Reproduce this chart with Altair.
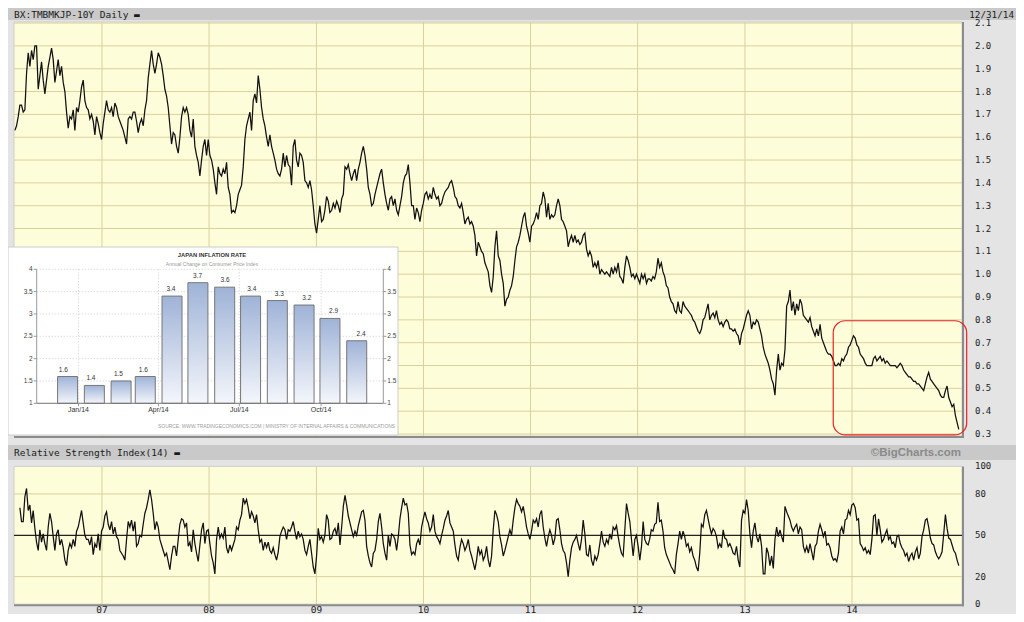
import altair as alt
import pandas as pd

# ---------------- data ----------------
# 10-year JGB yield, sampled along the daily trace, in three stretches
price_2006_2009 = [
    1.63, 1.65, 1.69, 1.74, 1.74, 1.71, 1.72, 1.88, 1.97, 1.91,
    1.98, 1.94, 2.00, 2.00, 1.81, 1.87, 1.93, 1.85, 1.79, 1.85,
    1.91, 1.95, 1.99, 1.94, 1.84, 1.89, 1.94, 1.87, 1.91, 1.84,
    1.80, 1.71, 1.64, 1.69, 1.68, 1.72, 1.63, 1.73, 1.71, 1.76,
    1.82, 1.85, 1.76, 1.73, 1.72, 1.68, 1.70, 1.67, 1.61, 1.69,
    1.66, 1.62, 1.59, 1.66, 1.71, 1.76, 1.72, 1.71, 1.73, 1.69,
    1.75, 1.73, 1.69, 1.67, 1.65, 1.63, 1.60, 1.57, 1.68, 1.69,
    1.68, 1.71, 1.71, 1.67, 1.62, 1.66, 1.68, 1.65, 1.72, 1.76,
    1.86, 1.92, 1.98, 1.92, 1.88, 1.92, 1.97, 1.95, 1.92, 1.87,
    1.81, 1.78, 1.73, 1.65, 1.57, 1.62, 1.61, 1.56, 1.53, 1.60,
    1.69, 1.73, 1.71, 1.73, 1.70, 1.63, 1.60, 1.68, 1.56, 1.52,
    1.49, 1.43, 1.50, 1.56, 1.59, 1.52, 1.59, 1.52, 1.50, 1.46,
    1.40, 1.35, 1.47, 1.44, 1.43, 1.46, 1.44, 1.49, 1.38, 1.35,
    1.27, 1.28, 1.27, 1.30, 1.35, 1.37, 1.39, 1.47, 1.59, 1.65,
    1.68, 1.71, 1.63, 1.76, 1.79, 1.75, 1.87, 1.81, 1.73, 1.68,
    1.65, 1.60, 1.56, 1.61, 1.56, 1.53, 1.50, 1.46, 1.44, 1.43,
    1.46, 1.53, 1.47, 1.52, 1.48, 1.47, 1.39, 1.56, 1.59, 1.50,
    1.47, 1.53, 1.52, 1.49, 1.41, 1.40, 1.38, 1.41, 1.37, 1.30,
    1.22, 1.18, 1.24, 1.30, 1.23, 1.24, 1.28, 1.34, 1.32, 1.27,
]
price_2009_2012 = [
    1.28, 1.31, 1.29, 1.32, 1.30, 1.27, 1.33, 1.35, 1.47, 1.46,
    1.48, 1.44, 1.41, 1.44, 1.46, 1.41, 1.46, 1.49, 1.53, 1.56,
    1.52, 1.46, 1.38, 1.35, 1.30, 1.31, 1.35, 1.38, 1.41, 1.44,
    1.46, 1.40, 1.35, 1.31, 1.28, 1.33, 1.34, 1.30, 1.33, 1.28,
    1.26, 1.30, 1.34, 1.40, 1.43, 1.44, 1.48, 1.40, 1.30, 1.30,
    1.24, 1.29, 1.27, 1.23, 1.28, 1.31, 1.35, 1.36, 1.33, 1.35,
    1.33, 1.38, 1.35, 1.33, 1.34, 1.30, 1.31, 1.34, 1.36, 1.37,
    1.38, 1.40, 1.41, 1.38, 1.34, 1.33, 1.30, 1.29, 1.31, 1.27,
    1.22, 1.24, 1.25, 1.22, 1.23, 1.21, 1.17, 1.08, 1.14, 1.12,
    1.10, 1.09, 1.05, 1.03, 1.01, 0.95, 0.92, 0.99, 1.12, 1.19,
    1.08, 1.06, 1.00, 0.96, 0.86, 0.89, 0.90, 0.93, 0.95, 0.99,
    1.06, 1.12, 1.14, 1.17, 1.21, 1.25, 1.27, 1.21, 1.18, 1.14,
    1.21, 1.22, 1.24, 1.27, 1.24, 1.30, 1.31, 1.36, 1.33, 1.25,
    1.31, 1.24, 1.26, 1.25, 1.26, 1.30, 1.33, 1.30, 1.24, 1.23,
    1.21, 1.19, 1.12, 1.15, 1.17, 1.14, 1.17, 1.14, 1.15, 1.13,
    1.14, 1.17, 1.18, 1.11, 1.08, 1.10, 1.08, 1.03, 1.05, 1.03,
    1.06, 1.00, 1.02, 1.01, 1.00, 1.01, 1.00, 0.99, 1.03, 1.00,
    1.03, 1.01, 1.05, 0.99, 0.98, 0.96, 1.03, 1.08, 1.06, 1.03,
    0.99, 1.00, 0.98, 1.00, 0.98, 0.96, 1.00, 0.98, 1.00, 0.96,
    0.98,
]
price_2012_2014 = [
    0.98, 0.97, 0.99, 0.98, 1.01, 1.07, 1.03, 1.05, 1.01, 0.99,
    0.95, 0.94, 0.90, 0.88, 0.87, 0.84, 0.83, 0.88, 0.84, 0.83,
    0.88, 0.86, 0.85, 0.84, 0.83, 0.82, 0.80, 0.79, 0.77, 0.75,
    0.74, 0.76, 0.80, 0.81, 0.84, 0.87, 0.80, 0.82, 0.83, 0.81,
    0.84, 0.80, 0.78, 0.79, 0.77, 0.79, 0.80, 0.79, 0.76, 0.76,
    0.75, 0.76, 0.74, 0.73, 0.69, 0.74, 0.76, 0.79, 0.82, 0.84,
    0.82, 0.76, 0.79, 0.78, 0.80, 0.79, 0.76, 0.73, 0.68, 0.65,
    0.63, 0.61, 0.58, 0.54, 0.52, 0.47, 0.58, 0.65, 0.58, 0.61,
    0.60, 0.67, 0.86, 0.88, 0.93, 0.84, 0.88, 0.82, 0.87, 0.84,
    0.89, 0.87, 0.82, 0.81, 0.80, 0.79, 0.81, 0.77, 0.75, 0.73,
    0.76, 0.73, 0.78, 0.72, 0.70, 0.68, 0.66, 0.65, 0.65, 0.64,
    0.62, 0.60, 0.60, 0.61, 0.60, 0.63, 0.62, 0.64, 0.65, 0.68,
    0.69, 0.71, 0.73, 0.72, 0.69, 0.68, 0.65, 0.64, 0.63, 0.61,
    0.60, 0.60, 0.60, 0.60, 0.63, 0.64, 0.62, 0.63, 0.64, 0.62,
    0.63, 0.61, 0.62, 0.61, 0.60, 0.60, 0.60, 0.60, 0.59, 0.60,
    0.61, 0.60, 0.58, 0.57, 0.56, 0.55, 0.55, 0.54, 0.53, 0.53,
    0.52, 0.52, 0.51, 0.50, 0.49, 0.52, 0.55, 0.57, 0.54, 0.53,
    0.52, 0.51, 0.50, 0.49, 0.47, 0.46, 0.46, 0.49, 0.51, 0.46,
    0.44, 0.42, 0.43, 0.38, 0.35, 0.32,
]

# Relative Strength Index (14)
rsi_2006_2009 = [
    70, 60, 60, 78, 84, 68, 72, 59, 68, 55,
    45, 39, 54, 45, 51, 44, 39, 56, 66, 60,
    49, 39, 51, 54, 43, 47, 41, 32, 28, 39,
    44, 41, 47, 42, 53, 56, 62, 68, 59, 50,
    47, 47, 43, 49, 36, 44, 41, 51, 39, 53,
    56, 64, 67, 58, 54, 60, 51, 56, 49, 47,
    39, 37, 35, 32, 47, 60, 56, 61, 53, 60,
    42, 44, 50, 49, 58, 66, 70, 76, 83, 76,
    66, 54, 60, 56, 47, 43, 39, 35, 37, 31,
    25, 35, 42, 42, 35, 47, 58, 62, 61, 56,
    59, 42, 45, 38, 54, 44, 37, 31, 43, 54,
    59, 44, 53, 54, 44, 35, 30, 22, 47, 56,
    48, 51, 48, 56, 41, 37, 43, 39, 43, 47,
    56, 54, 61, 65, 77, 73, 76, 70, 62, 67,
    64, 59, 65, 54, 45, 47, 39, 45, 41, 45,
    39, 37, 41, 36, 32, 38, 49, 53, 56, 54,
    47, 54, 53, 56, 60, 53, 47, 53, 49, 51,
    47, 39, 36, 42, 47, 37, 27, 22, 35, 55,
    47, 49, 45, 50, 65, 61, 47,
]
rsi_2009_2012 = [
    48, 53, 55, 50, 59, 43, 56, 71, 79, 72,
    64, 59, 54, 49, 53, 50, 57, 62, 67, 68,
    61, 42, 35, 30, 27, 37, 39, 47, 60, 66,
    56, 44, 37, 32, 50, 42, 51, 50, 47, 39,
    49, 62, 70, 77, 72, 73, 66, 43, 36, 38,
    36, 44, 47, 43, 56, 62, 67, 62, 59, 53,
    56, 65, 53, 49, 47, 44, 50, 55, 61, 64,
    68, 59, 56, 53, 43, 35, 32, 41, 47, 44,
    39, 42, 47, 39, 35, 30, 25, 32, 42, 36,
    39, 32, 35, 42, 32, 27, 35, 54, 68, 65,
    60, 49, 43, 35, 39, 44, 49, 54, 50, 61,
    70, 76, 73, 71, 67, 71, 64, 56, 51, 47,
    53, 61, 59, 62, 56, 65, 68, 56, 48, 42,
    49, 54, 50, 43, 48, 61, 62, 54, 44, 39,
    37, 30, 20, 32, 41, 45, 47, 50, 44, 39,
    47, 61, 51, 36, 35, 43, 32, 28, 35, 32,
    36, 44, 53, 45, 42, 47, 44, 51, 47, 56,
    54, 57, 49, 42, 37, 35, 54, 73, 66, 60,
    47, 35, 47, 50, 42, 32, 42, 60, 47, 44,
    43,
]
rsi_2012_2014 = [
    47, 54, 53, 58, 59, 74, 60, 61, 53, 41,
    36, 33, 30, 27, 25, 22, 36, 44, 53, 47,
    53, 49, 42, 44, 38, 41, 35, 32, 27, 24,
    37, 58, 56, 65, 68, 62, 56, 51, 55, 53,
    49, 41, 44, 41, 54, 48, 47, 42, 44, 41,
    37, 36, 42, 32, 27, 61, 68, 66, 76, 68,
    51, 41, 53, 59, 49, 45, 51, 42, 22, 22,
    41, 37, 28, 35, 26, 47, 56, 49, 54, 49,
    45, 71, 67, 64, 61, 56, 53, 56, 58, 51,
    56, 54, 42, 38, 42, 37, 44, 38, 32, 42,
    44, 53, 58, 54, 49, 53, 43, 44, 41, 35,
    32, 33, 31, 37, 53, 56, 51, 61, 62, 68,
    65, 72, 73, 70, 61, 62, 44, 42, 39, 41,
    37, 39, 36, 47, 64, 65, 50, 62, 54, 45,
    47, 51, 54, 47, 49, 44, 45, 41, 49, 50,
    44, 41, 39, 35, 37, 31, 35, 37, 32, 38,
    41, 33, 37, 49, 54, 61, 62, 56, 48, 44,
    43, 38, 35, 33, 35, 38, 51, 65, 55, 48,
    47, 43, 39, 37, 32, 28,
]

price_ticks = [0.3, 0.4, 0.5, 0.6, 0.7, 0.8, 0.9, 1.0, 1.1, 1.2,
               1.3, 1.4, 1.5, 1.6, 1.7, 1.8, 1.9, 2.0, 2.1]
price_tick_labels = ["0.3", "0.4", "0.5", "0.6", "0.7", "0.8", "0.9", "1.0", "1.1", "1.2",
                     "1.3", "1.4", "1.5", "1.6", "1.7", "1.8", "1.9", "2.0", "2.1"]
rsi_ticks = [0, 20, 50, 80, 100]
rsi_tick_labels = ["0", "20", "50", "80", "100"]
year_ticks = ["2007-01-01", "2008-01-01", "2009-01-01", "2010-01-01",
              "2011-01-01", "2012-01-01", "2013-01-01", "2014-01-01"]
year_labels = ["07", "08", "09", "10", "11", "12", "13", "14"]
highlight_period = ["2013-10-29", "2015-01-27"]
highlight_range = [0.296, 0.796]

# inset: Japan inflation rate
cpi_months = ["2013-12", "2014-01", "2014-02", "2014-03", "2014-04", "2014-05",
              "2014-06", "2014-07", "2014-08", "2014-09", "2014-10", "2014-11"]
cpi_values = [1.6, 1.4, 1.5, 1.6, 3.4, 3.7, 3.6, 3.4, 3.3, 3.2, 2.9, 2.4]
cpi_ticks = [1, 1.5, 2, 2.5, 3, 3.5, 4]
cpi_tick_labels = ["1", "1.5", "2", "2.5", "3", "3.5", "4"]
cpi_month_ticks = ["2014-01-01", "2014-04-01", "2014-07-01", "2014-10-01"]
cpi_month_labels = ["Jan/14", "Apr/14", "Jul/14", "Oct/14"]

# ---------------- tables ----------------
def stretch(start, end, vals):
    return pd.DataFrame({"date": pd.date_range(start, end, periods=len(vals)), "v": vals})

price_df = pd.concat([
    stretch("2006-03-10", "2009-02-16", price_2006_2009),
    stretch("2009-02-22", "2012-02-06", price_2009_2012),
    stretch("2012-02-11", "2014-12-31", price_2012_2014),
], ignore_index=True)
rsi_df = pd.concat([
    stretch("2006-03-27", "2009-02-16", rsi_2006_2009),
    stretch("2009-02-22", "2012-02-06", rsi_2009_2012),
    stretch("2012-02-11", "2014-12-31", rsi_2012_2014),
], ignore_index=True)
years_df = pd.DataFrame({"date": pd.to_datetime(year_ticks), "label": year_labels})
ptick_df = pd.DataFrame({"v": price_ticks, "t": price_tick_labels})
rtick_df = pd.DataFrame({"v": rsi_ticks, "t": rsi_tick_labels})
hl_df = pd.DataFrame({"x": [pd.Timestamp(highlight_period[0])], "x2": [pd.Timestamp(highlight_period[1])],
                      "y": [highlight_range[1]], "y2": [highlight_range[0]]})
cpi_df = pd.DataFrame({"month": pd.to_datetime(cpi_months) + pd.Timedelta(days=14), "v": cpi_values,
                       "base": [cpi_ticks[0]] * len(cpi_values)})
ctick_df = pd.DataFrame({"v": cpi_ticks, "t": cpi_tick_labels})
cmon_df = pd.DataFrame({"d": pd.to_datetime(cpi_month_ticks), "t": cpi_month_labels})
one = pd.DataFrame({"k": [0]})

# ---------------- layout ----------------
W, H = 1008, 606
PX0, PX1 = 6, 954
P_TOP, P_BOT = 14, 428
R_TOP, R_BOT = 458.4, 596.2
LAB_X = 967
MONO = "DejaVu Sans Mono"
SANS = "Liberation Sans"
GRID = "#d9d19d"
PANEL = "#fefdda"

x_time = alt.Scale(domain=[alt.DateTime(year=2006, month=3, date=7),
                           alt.DateTime(year=2015, month=1, date=11)], range=[PX0, PX1])
y_price = alt.Scale(domain=[0.3, 2.1], range=[426, 15.06])
y_rsi = alt.Scale(domain=[0, 100], range=[R_BOT, R_TOP])

IX0, IX1 = 28.7, 375.3
IY_BOT, IY_TOP = 395.3, 261.3
x_cpi = alt.Scale(domain=[alt.DateTime(year=2013, month=11, date=15),
                          alt.DateTime(year=2014, month=12, date=10)], range=[IX0, IX1])
y_cpi = alt.Scale(domain=[1, 4], range=[IY_BOT, IY_TOP])


def box(x, x2, y, y2, **kw):
    return alt.Chart(one).mark_rect(**kw).encode(
        x=alt.value(x), x2=alt.value(x2), y=alt.value(y), y2=alt.value(y2))


def hline(x, x2, y, **kw):
    return alt.Chart(one).mark_rule(**kw).encode(x=alt.value(x), x2=alt.value(x2), y=alt.value(y))


def vline(x, y, y2, **kw):
    return alt.Chart(one).mark_rule(**kw).encode(x=alt.value(x), y=alt.value(y), y2=alt.value(y2))


def label(x, y, txt, **kw):
    return alt.Chart(one).mark_text(**kw).encode(x=alt.value(x), y=alt.value(y), text=alt.value(txt))


layers = []

# header bar 1
layers.append(box(0, W, 0, 12, color="#c9c9c9"))
layers.append(label(6, 6.5, "BX:TMBMKJP-10Y Daily \u25ac", align="left", baseline="middle",
                    font=MONO, fontSize=9.5, color="#1a1a1a"))
layers.append(label(1006, 6.5, "12/31/14", align="right", baseline="middle",
                    font=MONO, fontSize=9.3, color="#1a1a1a"))

# price panel
layers.append(box(PX0, PX1, P_TOP, P_BOT, fill=PANEL, stroke="#cfcfcf", strokeWidth=1))
layers.append(alt.Chart(ptick_df).mark_rule(color=GRID, strokeWidth=1).encode(
    y=alt.Y("v:Q", scale=y_price, axis=None), x=alt.value(PX0), x2=alt.value(PX1)))
layers.append(alt.Chart(years_df).mark_rule(color=GRID, strokeWidth=1).encode(
    x=alt.X("date:T", scale=x_time, axis=None), y=alt.value(P_TOP), y2=alt.value(P_BOT)))
layers.append(vline(PX1 + 1, P_TOP, P_BOT + 2, color="#8c8c8c", strokeWidth=2))
layers.append(hline(PX0, PX1 + 2, P_BOT + 1, color="#8c8c8c", strokeWidth=2))
layers.append(alt.Chart(price_df).mark_line(color="#111111", strokeWidth=1.25).encode(
    x=alt.X("date:T", scale=x_time, axis=None), y=alt.Y("v:Q", scale=y_price, axis=None)))
layers.append(alt.Chart(ptick_df).mark_text(align="left", baseline="middle", font=MONO,
                                            fontSize=9, color="#222222").encode(
    y=alt.Y("v:Q", scale=y_price, axis=None), x=alt.value(LAB_X), text="t:N"))

# inset
layers.append(box(0, 390, 239, 427, fill="#ffffff", stroke="#cccccc", strokeWidth=1))
layers.append(alt.Chart(ctick_df).mark_rule(color="#cfcfcf", strokeWidth=1, strokeDash=[1, 2]).encode(
    y=alt.Y("v:Q", scale=y_cpi, axis=None), x=alt.value(IX0), x2=alt.value(IX1)))
layers.append(alt.Chart(cmon_df).mark_rule(color="#cfcfcf", strokeWidth=1, strokeDash=[1, 2]).encode(
    x=alt.X("d:T", scale=x_cpi, axis=None), y=alt.value(IY_TOP), y2=alt.value(IY_BOT)))
layers.append(alt.Chart(cpi_df).mark_bar(
    size=20, stroke="#777777", strokeWidth=1,
    color=alt.Gradient(gradient="linear", x1=0, x2=0, y1=0, y2=1,
                       stops=[alt.GradientStop(color="#9fb3d7", offset=0),
                              alt.GradientStop(color="#f4f6fb", offset=1)])).encode(
    x=alt.X("month:T", scale=x_cpi, axis=None), y=alt.Y("v:Q", scale=y_cpi, axis=None),
    y2="base:Q"))
layers.append(alt.Chart(cpi_df).mark_text(baseline="middle", dy=-7, font=SANS, fontSize=6.5,
                                          color="#333333").encode(
    x=alt.X("month:T", scale=x_cpi, axis=None), y=alt.Y("v:Q", scale=y_cpi, axis=None),
    text=alt.Text("v:Q", format=".1f")))
layers.append(vline(IX0, IY_TOP, IY_BOT, color="#999999", strokeWidth=1))
layers.append(vline(IX1, IY_TOP, IY_BOT, color="#999999", strokeWidth=1))
layers.append(hline(IX0, IX1, IY_BOT, color="#777777", strokeWidth=1))
layers.append(alt.Chart(ctick_df).mark_rule(color="#999999").encode(
    y=alt.Y("v:Q", scale=y_cpi, axis=None), x=alt.value(IX0 - 3), x2=alt.value(IX0)))
layers.append(alt.Chart(ctick_df).mark_rule(color="#999999").encode(
    y=alt.Y("v:Q", scale=y_cpi, axis=None), x=alt.value(IX1), x2=alt.value(IX1 + 3)))
layers.append(alt.Chart(cmon_df).mark_rule(color="#999999").encode(
    x=alt.X("d:T", scale=x_cpi, axis=None), y=alt.value(IY_BOT), y2=alt.value(IY_BOT + 3)))
layers.append(alt.Chart(ctick_df).mark_text(align="right", baseline="middle", font=SANS,
                                            fontSize=6.5, color="#444444").encode(
    y=alt.Y("v:Q", scale=y_cpi, axis=None), x=alt.value(IX0 - 4), text="t:N"))
layers.append(alt.Chart(ctick_df).mark_text(align="left", baseline="middle", font=SANS,
                                            fontSize=6.5, color="#444444").encode(
    y=alt.Y("v:Q", scale=y_cpi, axis=None), x=alt.value(IX1 + 4), text="t:N"))
layers.append(alt.Chart(cmon_df).mark_text(align="center", baseline="middle", font=SANS,
                                           fontSize=7, color="#333333").encode(
    x=alt.X("d:T", scale=x_cpi, axis=None), y=alt.value(IY_BOT + 7), text="t:N"))
layers.append(label(204, 247, "JAPAN INFLATION RATE", align="center", baseline="middle",
                    font=SANS, fontSize=5.8, fontWeight="bold", color="#333333"))
layers.append(label(204, 256, "Annual Change on Consumer Price Index", align="center",
                    baseline="middle", font=SANS, fontSize=5, color="#999999"))
layers.append(label(387, 419, "SOURCE: WWW.TRADINGECONOMICS.COM  |  MINISTRY OF INTERNAL AFFAIRS & COMMUNICATIONS",
                    align="right", baseline="middle", font=SANS, fontSize=4.9, color="#9a9a9a"))

# highlight
layers.append(alt.Chart(hl_df).mark_rect(fillOpacity=0, stroke="#e82424", strokeWidth=1.2,
                                         cornerRadius=12).encode(
    x=alt.X("x:T", scale=x_time, axis=None), x2="x2:T",
    y=alt.Y("y:Q", scale=y_price, axis=None), y2="y2:Q"))

# header bar 2
layers.append(box(0, W, 437, 452, color="#c9c9c9"))
layers.append(label(6, 444.5, "Relative Strength Index(14) \u25ac", align="left", baseline="middle",
                    font=MONO, fontSize=9.5, color="#1a1a1a"))
layers.append(label(953, 444.5, "\u00a9BigCharts.com", align="right", baseline="middle",
                    font=SANS, fontSize=11.5, fontWeight="bold", color="#8a8a8a"))

# RSI panel
layers.append(box(PX0, PX1, R_TOP, R_BOT, fill=PANEL, stroke="#cfcfcf", strokeWidth=1))
layers.append(alt.Chart(rtick_df[rtick_df.v.isin([20, 80])]).mark_rule(color=GRID, strokeWidth=1).encode(
    y=alt.Y("v:Q", scale=y_rsi, axis=None), x=alt.value(PX0), x2=alt.value(PX1)))
layers.append(alt.Chart(years_df).mark_rule(color=GRID, strokeWidth=1).encode(
    x=alt.X("date:T", scale=x_time, axis=None), y=alt.value(R_TOP), y2=alt.value(R_BOT)))
layers.append(alt.Chart(rtick_df[rtick_df.v == 50]).mark_rule(color="#222222", strokeWidth=1.3).encode(
    y=alt.Y("v:Q", scale=y_rsi, axis=None), x=alt.value(PX0), x2=alt.value(PX1)))
layers.append(vline(PX1 + 1, R_TOP, R_BOT + 2, color="#8c8c8c", strokeWidth=2))
layers.append(hline(PX0, PX1 + 2, R_BOT + 1, color="#8c8c8c", strokeWidth=2))
layers.append(alt.Chart(rsi_df).mark_line(color="#111111", strokeWidth=1.25).encode(
    x=alt.X("date:T", scale=x_time, axis=None), y=alt.Y("v:Q", scale=y_rsi, axis=None)))
layers.append(alt.Chart(rtick_df).mark_text(align="left", baseline="middle", font=MONO,
                                            fontSize=9, color="#222222").encode(
    y=alt.Y("v:Q", scale=y_rsi, axis=None), x=alt.value(LAB_X), text="t:N"))
layers.append(alt.Chart(years_df).mark_text(align="center", baseline="alphabetic", font=MONO,
                                            fontSize=9.5, color="#222222").encode(
    x=alt.X("date:T", scale=x_time, axis=None), y=alt.value(605), text="label:N"))

chart = alt.layer(*layers).resolve_scale(x="independent", y="independent").properties(
    width=W, height=H, autosize=alt.AutoSizeParams(type="none"), padding=0,
    background="#e4e4e4").configure_view(stroke=None)

chart.save("out.html", embed_options={"renderer": "svg", "actions": False})
